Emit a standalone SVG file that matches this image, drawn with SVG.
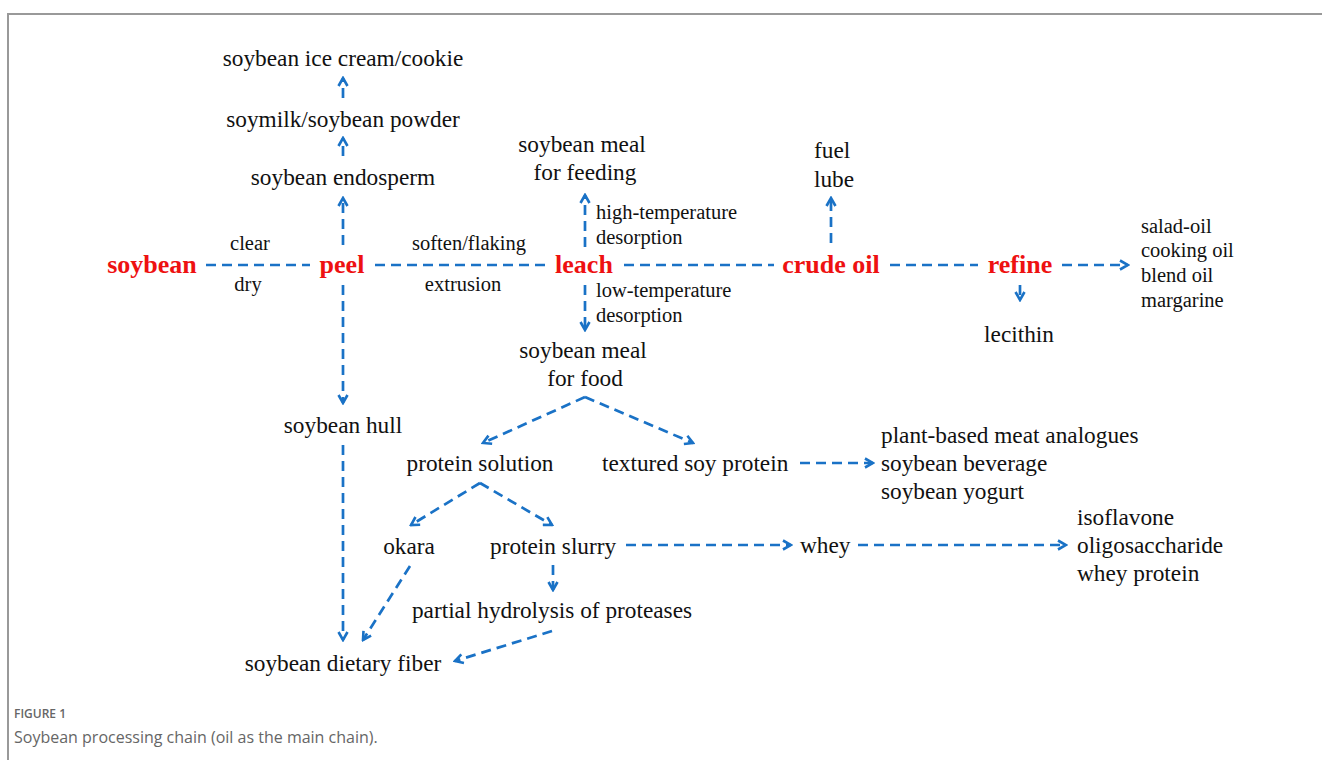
<svg xmlns="http://www.w3.org/2000/svg" width="1322" height="760" viewBox="0 0 1322 760">
<defs>
<style>
.t{font-family:"Liberation Serif","Times New Roman",serif;font-size:23.3px;fill:#111}
.s{font-family:"Liberation Serif","Times New Roman",serif;font-size:20.5px;fill:#111}
.r{font-family:"Liberation Serif","Times New Roman",serif;font-size:26px;font-weight:bold;fill:#ee1111}
.c{text-anchor:middle}
.e{fill:none;stroke:#1a72c6;stroke-width:2.7;stroke-dasharray:10 6}
.cap1{font-family:"Open Sans","Liberation Sans",sans-serif;font-size:12px;font-weight:600;fill:#666}
.cap2{font-family:"Open Sans","Liberation Sans",sans-serif;font-size:16px;fill:#666}
</style>
<marker id="a" viewBox="0 0 12 12" refX="10" refY="6" markerWidth="12" markerHeight="12" markerUnits="userSpaceOnUse" orient="auto">
<path d="M2,1.5 L10,6 L2,10.5" fill="none" stroke="#1a72c6" stroke-width="2.6"/>
</marker>
</defs>
<rect width="1322" height="760" fill="#fff"/>
<path d="M8,760 V14 H1322" fill="none" stroke="#999" stroke-width="2"/>

<g id="connectors">
<path class="e" d="M343,98 V78" marker-end="url(#a)"/>
<path class="e" d="M343,156 V138" marker-end="url(#a)"/>
<path class="e" d="M343,245 V198" marker-end="url(#a)"/>
<path class="e" d="M206,265 H310"/>
<path class="e" d="M375,265 H548"/>
<path class="e" d="M624,265 H774"/>
<path class="e" d="M890,265 H978"/>
<path class="e" d="M1062,265 H1128" marker-end="url(#a)"/>
<path class="e" d="M831,243 V198" marker-end="url(#a)"/>
<path class="e" d="M1020,285 V300" marker-end="url(#a)"/>
<path class="e" d="M585,247 V195" marker-end="url(#a)"/>
<path class="e" d="M585,285 V330" marker-end="url(#a)"/>
<path class="e" d="M343,285 V403" marker-end="url(#a)"/>
<path class="e" d="M343,445 V640" marker-end="url(#a)"/>
<path class="e" d="M585,397 L483,443" marker-end="url(#a)"/>
<path class="e" d="M585,397 L693,443" marker-end="url(#a)"/>
<path class="e" d="M800,463 H873" marker-end="url(#a)"/>
<path class="e" d="M480,483 L411,525" marker-end="url(#a)"/>
<path class="e" d="M480,483 L552,525" marker-end="url(#a)"/>
<path class="e" d="M626,545 H791" marker-end="url(#a)"/>
<path class="e" d="M858,545 H1066" marker-end="url(#a)"/>
<path class="e" d="M553,565 V590" marker-end="url(#a)"/>
<path class="e" d="M410,566 L363,640" marker-end="url(#a)"/>
<path class="e" d="M552,631 L455,661" marker-end="url(#a)"/>
</g>

<g id="n-icecream"><text class="t c" x="343" y="66">soybean ice cream/cookie</text></g>
<g id="n-soymilk"><text class="t c" x="343" y="127">soymilk/soybean powder</text></g>
<g id="n-endosperm"><text class="t c" x="343" y="185">soybean endosperm</text></g>
<g id="n-soybean"><text class="r c" x="152" y="273">soybean</text></g>
<g id="l-clear"><text class="s c" x="250" y="250">clear</text><text class="s c" x="248" y="291">dry</text></g>
<g id="n-peel"><text class="r c" x="342" y="273">peel</text></g>
<g id="l-soften"><text class="s c" x="469" y="250">soften/flaking</text><text class="s c" x="463" y="291">extrusion</text></g>
<g id="n-leach"><text class="r c" x="584" y="273">leach</text></g>
<g id="n-crude"><text class="r c" x="831" y="273">crude oil</text></g>
<g id="n-refine"><text class="r c" x="1020" y="273">refine</text></g>
<g id="n-oils"><text class="s" x="1141" y="233">salad-oil</text><text class="s" x="1141" y="257">cooking oil</text><text class="s" x="1141" y="282">blend oil</text><text class="s" x="1141" y="307">margarine</text></g>
<g id="n-fuel"><text class="t" x="814" y="158">fuel</text><text class="t" x="814" y="187">lube</text></g>
<g id="n-lecithin"><text class="t c" x="1019" y="342">lecithin</text></g>
<g id="n-mealfeed"><text class="t c" x="582" y="152">soybean meal</text><text class="t c" x="585" y="180">for feeding</text></g>
<g id="l-high"><text class="s" x="596" y="219">high-temperature</text><text class="s" x="596" y="244">desorption</text></g>
<g id="l-low"><text class="s" x="596" y="297">low-temperature</text><text class="s" x="596" y="322">desorption</text></g>
<g id="n-mealfood"><text class="t c" x="583" y="358">soybean meal</text><text class="t c" x="585" y="386">for food</text></g>
<g id="n-hull"><text class="t c" x="343" y="433">soybean hull</text></g>
<g id="n-protsol"><text class="t c" x="480" y="471">protein solution</text></g>
<g id="n-tsp"><text class="t" x="602" y="471">textured soy protein</text></g>
<g id="n-plant"><text class="t" x="881" y="443">plant-based meat analogues</text><text class="t" x="881" y="471">soybean beverage</text><text class="t" x="881" y="499">soybean yogurt</text></g>
<g id="n-okara"><text class="t c" x="409" y="554">okara</text></g>
<g id="n-slurry"><text class="t" x="490" y="554">protein slurry</text></g>
<g id="n-whey"><text class="t" x="800" y="553">whey</text></g>
<g id="n-iso"><text class="t" x="1077" y="525">isoflavone</text><text class="t" x="1077" y="553">oligosaccharide</text><text class="t" x="1077" y="581">whey protein</text></g>
<g id="n-hydro"><text class="t c" x="552" y="618">partial hydrolysis of proteases</text></g>
<g id="n-fiber"><text class="t c" x="343" y="671">soybean dietary fiber</text></g>

<g id="caption"><text class="cap1" x="14" y="718">FIGURE 1</text><text class="cap2" x="14" y="743">Soybean processing chain (oil as the main chain).</text></g>
</svg>
